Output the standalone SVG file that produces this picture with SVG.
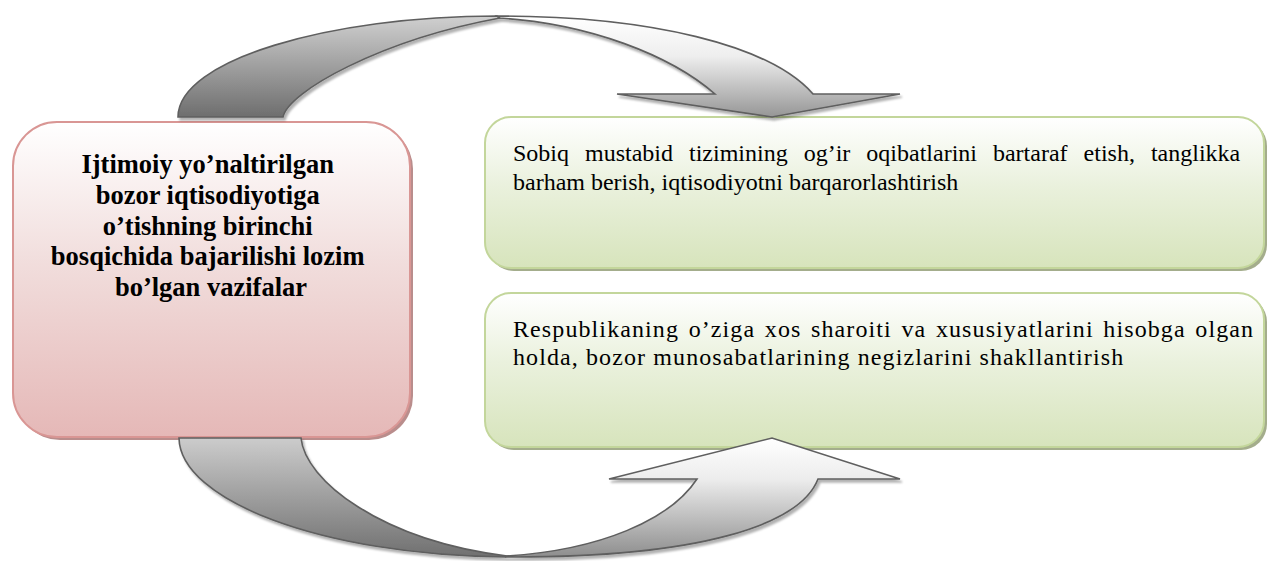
<svg xmlns="http://www.w3.org/2000/svg" width="1269" height="561" viewBox="0 0 1269 561">
  <defs>
    <linearGradient id="gPink" x1="0" y1="0" x2="0" y2="1">
      <stop offset="0" stop-color="#ffffff"/>
      <stop offset="0.45" stop-color="#f1dddc"/>
      <stop offset="1" stop-color="#e5b8b7"/>
    </linearGradient>
    <linearGradient id="gGreen" x1="0" y1="0" x2="0" y2="1">
      <stop offset="0" stop-color="#ffffff"/>
      <stop offset="0.45" stop-color="#eaf1dd"/>
      <stop offset="1" stop-color="#d7e4bc"/>
    </linearGradient>
    <linearGradient id="gBack" x1="0" y1="0" x2="0" y2="1">
      <stop offset="0" stop-color="#d0d0d0"/>
      <stop offset="1" stop-color="#6e6e6e"/>
    </linearGradient>
    <linearGradient id="gFront" x1="0" y1="0" x2="0" y2="1">
      <stop offset="0" stop-color="#ffffff"/>
      <stop offset="0.4" stop-color="#eeeeee"/>
      <stop offset="1" stop-color="#969696"/>
    </linearGradient>
    <linearGradient id="gBack2" x1="0" y1="0" x2="0" y2="1">
      <stop offset="0" stop-color="#cccccc"/>
      <stop offset="1" stop-color="#707070"/>
    </linearGradient>
    <linearGradient id="gFront2" x1="0" y1="0" x2="0" y2="1">
      <stop offset="0" stop-color="#ffffff"/>
      <stop offset="0.35" stop-color="#ececec"/>
      <stop offset="1" stop-color="#8e8e8e"/>
    </linearGradient>
    <filter id="sh" x="-10%" y="-10%" width="120%" height="130%">
      <feDropShadow dx="2" dy="3" stdDeviation="1" flood-color="#000000" flood-opacity="0.3"/>
    </filter>
  </defs>
  <style>
    .pink { fill: url(#gPink); stroke: #d99694; stroke-width: 2; }
    .pinkSh { fill: #b98d8c; }
    .green { fill: url(#gGreen); stroke: #c3d69b; stroke-width: 2; }
    .greenSh { fill: #a4ad8c; }
    .arrow { stroke: #5f5f5f; stroke-width: 1.6; stroke-linejoin: miter; }
    .bold { font-family: "Liberation Serif", "Times New Roman", serif; font-weight: bold; font-size: 26.5px; fill: #000; }
    .reg { font-family: "Liberation Serif", "Times New Roman", serif; font-size: 24px; fill: #000; }
  </style>

  <g id="node-main">
    <rect class="pinkSh" x="16" y="125" width="397" height="315" rx="44" ry="44"/>
    <rect class="pink" x="13" y="122" width="397" height="315" rx="44" ry="44"/>
    <text class="bold" text-anchor="middle">
      <tspan x="211" y="173">Ijtimoiy yo’naltirilgan</tspan>
      <tspan x="211" y="204">bozor iqtisodiyotiga</tspan>
      <tspan x="211" y="235">o’tishning birinchi</tspan>
      <tspan x="211" y="265">bosqichida bajarilishi lozim</tspan>
      <tspan x="211" y="296">bo’lgan vazifalar</tspan>
    </text>
  </g>

  <g id="node-task1">
    <rect class="greenSh" x="488" y="120" width="779" height="151" rx="26" ry="26"/>
    <rect class="green" x="485" y="117" width="779" height="151" rx="26" ry="26"/>
    <text class="reg">
      <tspan x="513" y="161" word-spacing="10">Sobiq mustabid tizimining og’ir oqibatlarini bartaraf etish, tanglikka</tspan>
      <tspan x="513" y="190">barham berish, iqtisodiyotni barqarorlashtirish</tspan>
    </text>
  </g>

  <g id="node-task2">
    <rect class="greenSh" x="488" y="296" width="779" height="154" rx="26" ry="26"/>
    <rect class="green" x="485" y="293" width="779" height="154" rx="26" ry="26"/>
    <text class="reg" letter-spacing="1.1">
      <tspan x="513" y="337" word-spacing="2.5">Respublikaning o’ziga xos sharoiti va xususiyatlarini hisobga olgan</tspan>
      <tspan x="513" y="365">holda, bozor munosabatlarining negizlarini shakllantirish</tspan>
    </text>
  </g>

  <g id="connectors" filter="url(#sh)">
    <g id="arrow-top">
      <path class="arrow" fill="url(#gBack)" d="M178,117 C178,60 330,16 497,16 L500,18 C380,40 288,92 283,117 Z"/>
      <path class="arrow" fill="url(#gFront)" d="M497,16 C650,16 770,45 813,94 L900,94 L772,117 L617,94 L715,94 C670,55 590,24 500,18 Z"/>
    </g>
    <g id="arrow-bottom">
      <path class="arrow" fill="url(#gBack2)" d="M179,438 C180,500 320,555 505,557 L507,556 C380,540 305,480 301,438 Z"/>
      <path class="arrow" fill="url(#gFront2)" d="M505,557 C700,558 800,525 818,479 L900,479 L772,438 L609,479 L697,479 C670,520 600,550 507,556 Z"/>
    </g>
  </g>
</svg>
